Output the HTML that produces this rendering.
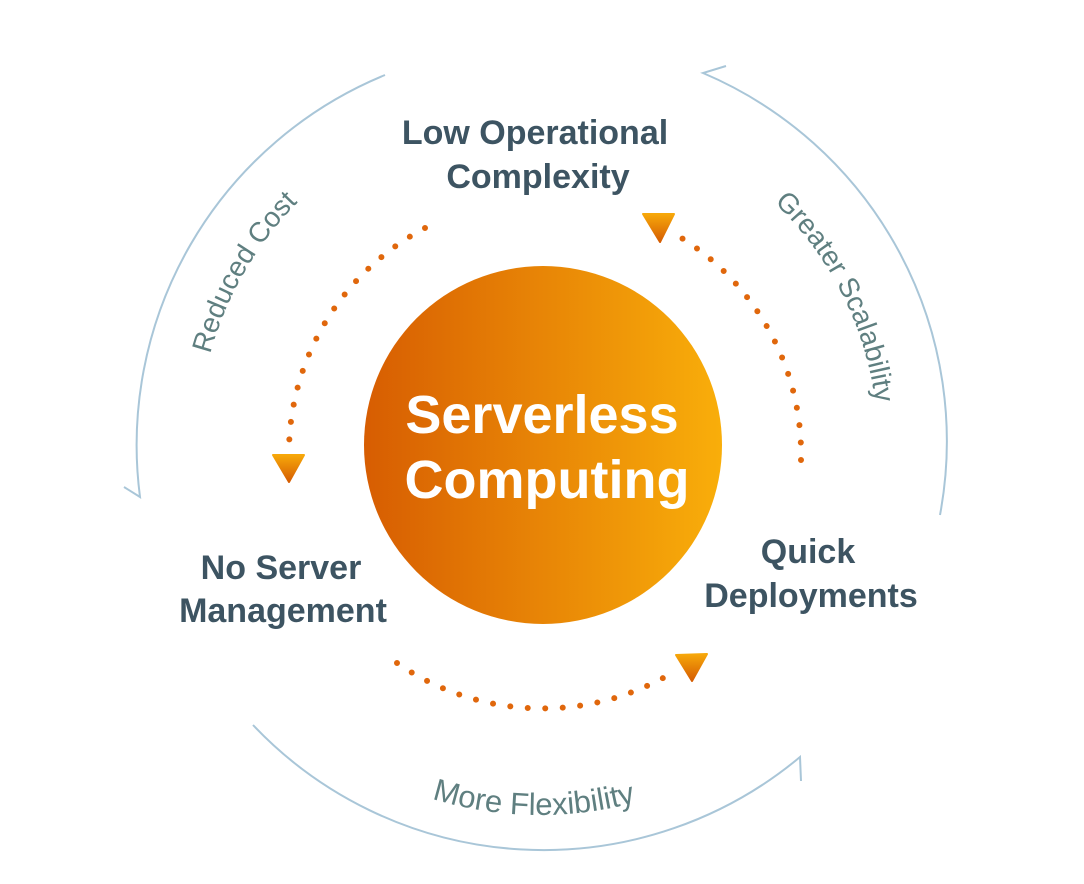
<!DOCTYPE html>
<html><head><meta charset="utf-8"><style>
html,body{margin:0;padding:0;background:#fff;}
svg{display:block;}
</style></head><body>
<svg width="1084" height="884" viewBox="0 0 1084 884" xmlns="http://www.w3.org/2000/svg">
<defs>
<linearGradient id="g" x1="0" y1="0" x2="1" y2="0">
<stop offset="0" stop-color="#d75d02"/><stop offset="1" stop-color="#f9ae0a"/>
</linearGradient>
<linearGradient id="ga" x1="0" y1="0" x2="0" y2="1">
<stop offset="0" stop-color="#f7a80a"/><stop offset="1" stop-color="#d55c02"/>
</linearGradient>
<path id="p1" d="M198,445 A345,345 0 0 1 370.5,146.2"/>
<path id="p2" d="M720.5,160.9 A335,335 0 0 1 877.8,456.7"/>
<path id="p3" d="M351,762.5 A367,367 0 0 0 718,769"/>
</defs>
<g fill="none" stroke="#a9c6d8" stroke-width="2">
<path d="M385,75 A400,400 0 0 0 140,497 L124,487"/>
<path d="M940,515 A400,400 0 0 0 703,73 L726,66"/>
<path d="M253,725 A400,400 0 0 0 800,757 L801,781"/>
</g>
<g fill="none" stroke="#e0670c" stroke-width="6" stroke-linecap="round" stroke-dasharray="0 17.5">
<path d="M425,228 A255,255 0 0 0 289,448"/>
<path d="M801,460 A255,255 0 0 0 680,237"/>
<path d="M397,663 A255,255 0 0 0 672,673"/>
</g>
<path d="M273,455 L304,455 L289,482 Z" fill="url(#ga)" stroke="url(#ga)" stroke-width="2" stroke-linejoin="round"/>
<path d="M643,214 L674,214 L660,242 Z" fill="url(#ga)" stroke="url(#ga)" stroke-width="2" stroke-linejoin="round"/>
<path d="M676,655 L707,654 L692,681 Z" fill="url(#ga)" stroke="url(#ga)" stroke-width="2" stroke-linejoin="round"/>
<circle cx="543" cy="445" r="179" fill="url(#g)"/>
<g font-family="Liberation Sans, sans-serif" font-weight="bold" fill="#3d5462" font-size="34" text-anchor="middle">
<text x="535" y="144">Low Operational</text>
<text x="538" y="188">Complexity</text>
<text x="281" y="579">No Server</text>
<text x="283" y="622">Management</text>
<text x="808" y="563">Quick</text>
<text x="811" y="607">Deployments</text>
</g>
<g font-family="Liberation Sans, sans-serif" font-weight="bold" fill="#fff" font-size="54" text-anchor="middle">
<text x="542" y="433">Serverless</text>
<text x="547" y="498">Computing</text>
</g>
<g font-family="Liberation Sans, sans-serif" fill="#5f7f80" font-size="28" text-anchor="middle">
<text><textPath href="#p1" startOffset="50%">Reduced Cost</textPath></text>
<text><textPath href="#p2" startOffset="52%">Greater Scalability</textPath></text>
<text font-size="31"><textPath href="#p3" startOffset="50%">More Flexibility</textPath></text>
</g>
</svg>
</body></html>
